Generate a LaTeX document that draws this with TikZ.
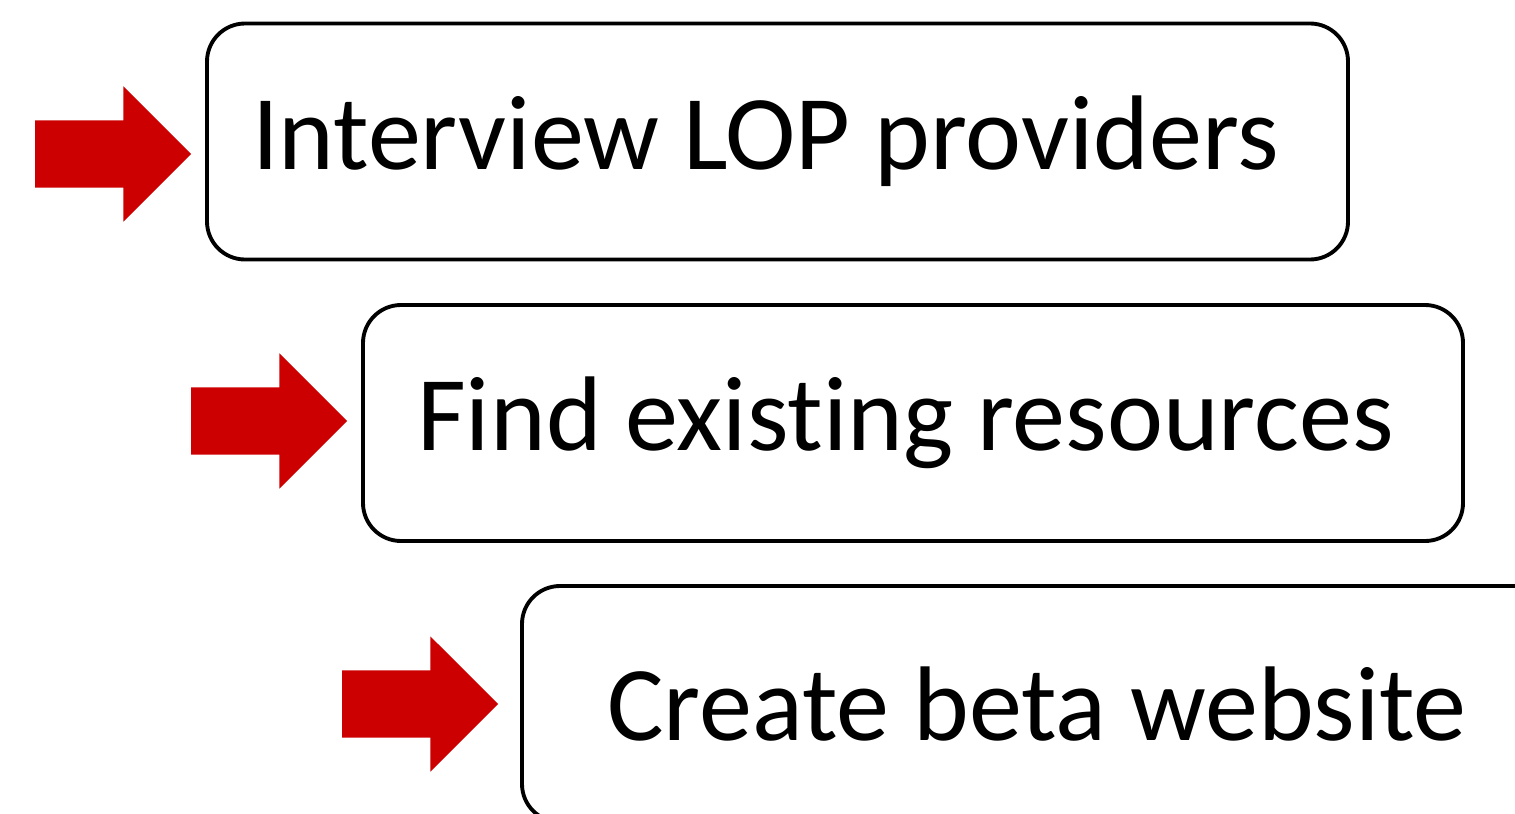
\documentclass[tikz,border=0pt]{standalone}
\usepackage{fontspec}
\setmainfont[Ligatures=NoCommon]{Carlito}
\usetikzlibrary{shapes.arrows}
\definecolor{arrowred}{RGB}{204, 0, 0}
\tikzstyle{taskbox}=[draw,line width=1.1pt,rounded corners=0.38cm,minimum height=2.36cm,inner sep=0pt,font=\fontsize{30.2}{36}\selectfont]
\tikzstyle{pointer}=[single arrow,fill=arrowred,draw=none,inner xsep=0pt,inner ysep=0.33cm,minimum height=1.56cm,minimum width=1.34cm,single arrow head extend=0.34cm,anchor=tip]

\begin{document}
\begin{tikzpicture}

\clip (0cm,0cm) rectangle (15.15cm,8.13cm);
\useasboundingbox (0cm,0cm) rectangle (15.15cm,8.13cm);

\node[taskbox,minimum width=11.41cm] (T1) at (7.775cm,6.715cm) {Interview LOP providers\hspace*{0.24cm}};
\node[taskbox,minimum width=11.00cm] (T2) at (9.13cm,3.90cm) {Find existing resources\hspace*{0.15cm}};
\node[taskbox,minimum width=10.30cm] (T3) at (10.37cm,1.09cm) {Create beta website};

\node[pointer] (A1) at (1.92cm,6.59cm) {};
\node[pointer] (A2) at (3.48cm,3.92cm) {};
\node[pointer] (A3) at (4.99cm,1.09cm) {};

\end{tikzpicture}
\end{document}
